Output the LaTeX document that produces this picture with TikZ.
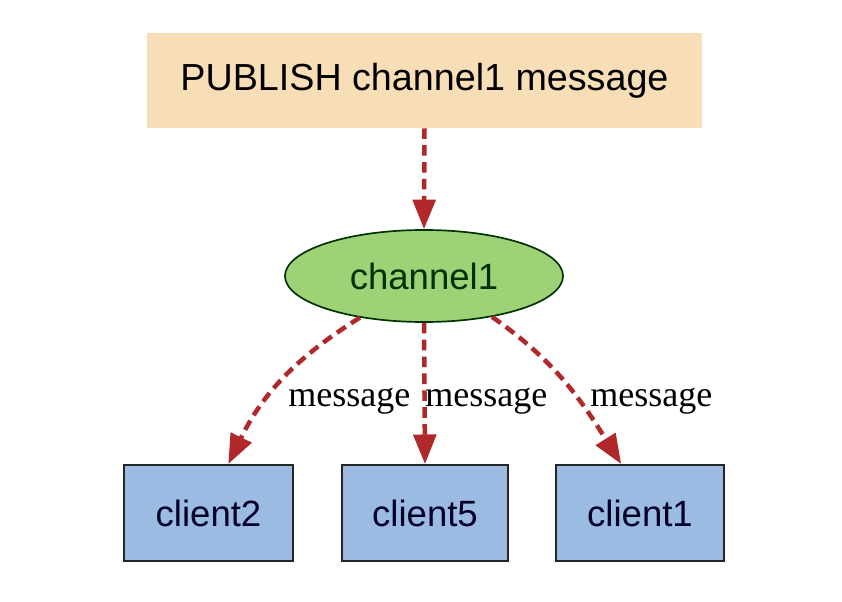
\documentclass[tikz,border=0pt]{standalone}
\usepackage{fontspec}
\setmainfont{Liberation Sans}
\newfontfamily\lblfont{Liberation Serif}
\usetikzlibrary{arrows.meta,shapes.geometric}
\definecolor{pubfill}{RGB}{247,222,183}
\definecolor{chfill}{RGB}{158,210,118}
\definecolor{clfill}{RGB}{155,187,226}
\definecolor{arrowred}{RGB}{176,40,42}
\begin{document}
\begin{tikzpicture}[x=0.025cm, y=-0.025cm,
		big/.style={font=\fontsize{26}{30}\selectfont, inner sep=0pt},
		client/.style={big, draw=black!85, line width=1.4pt, fill=clfill, text=black!85!blue,
			minimum width=4.2cm, minimum height=2.4cm},
		msg/.style={draw=arrowred, line width=3.2pt, dash pattern=on 7.5pt off 4.5pt,
			-{Triangle[length=21pt, width=16pt]}},
		msglabel/.style={font=\lblfont\fontsize{25.6}{29}\selectfont, inner sep=0pt, anchor=base west}]
		\useasboundingbox (0,0) rectangle (842,602);
		% the command and the channel
		\node [big, font=\fontsize{26.8}{31}\selectfont, fill=pubfill, minimum width=13.875cm, minimum height=2.375cm] (pub) at (424.5,80.5) {PUBLISH channel1 message};
		\node [big, ellipse, draw=black!80!green, line width=1.2pt, fill=chfill, text=black!80!green,
			minimum width=6.95cm, minimum height=2.3cm] (ch) at (424,276) {channel1};
		% subscribers
		\node [client] (c2) at (208.5,513) {client2};
		\node [client, minimum width=4.15cm] (c5) at (425,513) {client5};
		\node [client] (c1) at (640,513) {client1};
		
		\draw [msg] (pub.south) -- (ch.north);
		\draw [msg] (ch.213) to[out=212, in=64] (c2.68);
		\draw [msg] (ch.south) -- (c5.north);
		\draw [msg] (ch.329) to[out=325, in=122] (c1.111);
		\node [msglabel] (m2) at (288,407) {message};
		\node [msglabel] (m5) at (425,407) {message};
		\node [msglabel] (m1) at (590,407) {message};
	\end{tikzpicture}
\end{document}
